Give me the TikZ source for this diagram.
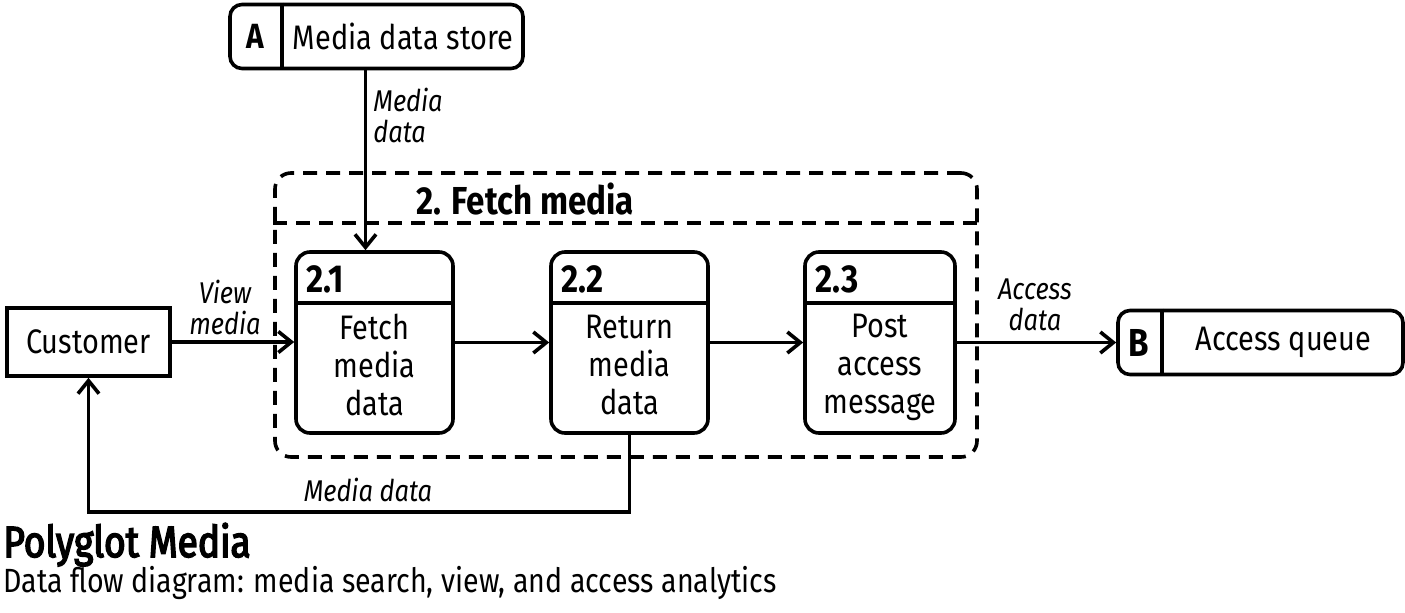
\documentclass[tikz,border=0pt]{standalone}
\usepackage{fontspec}
\setmainfont{Fira Sans}[FakeStretch=0.85]
\newfontfamily\titlefont{Fira Sans}[FakeStretch=0.85, FakeBold=3.5]
\usepackage{tikz}
\usetikzlibrary{positioning,arrows.meta,calc}

\begin{document}
\begin{tikzpicture}[
  x=0.5pt, y=-0.5pt,
  font=\fontsize{17}{19}\selectfont,
  every node/.style={inner sep=0pt},
  proc/.style={draw, line width=1.8pt, rounded corners=7pt, minimum height=90.5pt},
  ext/.style={draw, line width=1.8pt, minimum width=81.5pt, minimum height=34pt},
  store/.style={draw, line width=1.8pt, rounded corners=6pt, minimum height=32pt},
  num/.style={font=\fontsize{19.5}{22}\selectfont\bfseries, anchor=north west},
  body/.style={align=center},
  lbl/.style={font=\fontsize{15}{15.5}\selectfont\itshape, align=center},
  grp/.style={draw, line width=1.8pt, dash pattern=on 7pt off 4.5pt, rounded corners=8pt},
  sep/.style={line width=1.8pt},
  arr/.style={-{Straight Barb[length=6.5pt,width=10.5pt]}, line width=1.8pt},
]
\useasboundingbox (0,0) rectangle (1405,612);
% processes
\node[proc, minimum width=78.5pt] (fetch) at (374.5,342.5) {};
\node[proc, minimum width=78.5pt, right=47.2pt of fetch] (ret) {};
\node[proc, minimum width=75pt, right=46.7pt of ret] (post) {};
\draw[sep] ([yshift=-26.5pt]fetch.north west) -- ([yshift=-26.5pt]fetch.north east);
\draw[sep] ([yshift=-26.5pt]ret.north west) -- ([yshift=-26.5pt]ret.north east);
\draw[sep] ([yshift=-26.5pt]post.north west) -- ([yshift=-26.5pt]post.north east);
\node[num] at ([xshift=6pt,yshift=-7.5pt]fetch.north west) {2.1};
\node[num] at ([xshift=6pt,yshift=-7.5pt]ret.north west) {2.2};
\node[num] at ([xshift=6pt,yshift=-7.5pt]post.north west) {2.3};
\node[body] at ([yshift=-11pt]fetch.center) {Fetch\\media\\data};
\node[body] at ([yshift=-11pt]ret.center) {Return\\media\\data};
\node[body] at ([yshift=-12.5pt]post.center) {Post\\access\\message};
% group
\node[grp, minimum width=351pt, minimum height=142pt] (grp) at (626,315) {};
\draw[sep, dash pattern=on 7pt off 4.5pt] (grp.west |- 0,223) -- (grp.east |- 0,223);
\node[font=\fontsize{19.5}{22}\selectfont\bfseries, anchor=west] (grptitle) at (416,199) {2. Fetch media};
% data stores
\node[store, minimum width=146.5pt] (mstore) at (376.5,36.5) {};
\draw[sep] ([xshift=27pt]mstore.north west) -- ([xshift=27pt]mstore.south west);
\node[font=\fontsize{17.5}{19}\selectfont\bfseries] at ([xshift=13.5pt]mstore.west) {A};
\node at ([xshift=13.25pt]mstore.center) {Media data store};
\node[store, minimum width=142.5pt] (aqueue) at (1260.5,342.5) {};
\draw[sep] ([xshift=23pt]aqueue.north west) -- ([xshift=23pt]aqueue.south west);
\node[font=\fontsize{19.5}{22}\selectfont\bfseries] at ([xshift=11.5pt]aqueue.west) {B};
\node at ([xshift=11.5pt]aqueue.center) {Access queue};
% external entity
\node[ext] (cust) at (88.5,342) {Customer};
% flows
\coordinate (fetchin) at ([xshift=-4.5pt]fetch.north);
\draw[arr] (mstore.south -| fetchin) -- (fetchin);
\node[lbl, align=left, anchor=west] at (373,115) {Media\\data};
\draw[arr] (cust.east) -- (cust.east -| fetch.west);
\node[lbl] at (225,307) {View\\media};
\draw[arr] (fetch) -- (ret);
\draw[arr] (ret) -- (post);
\draw[arr] (post) -- (aqueue);
\node[lbl] at (1035,305) {Access\\data};
\coordinate (retbend) at ($(ret.south)+(0,77)$);
\draw[arr] (ret.south) -- (retbend) -| (cust.south);
\node[lbl] at (368,490) {Media data};
% caption
\node[anchor=base west, font=\fontsize{21.8}{24}\titlefont] (title) at (3,557) {Polyglot Media};
\node[anchor=base west, font=\fontsize{16.8}{19}\selectfont] (subtitle) at (3,592) {Data flow diagram: media search, view, and access analytics};
\end{tikzpicture}
\end{document}
